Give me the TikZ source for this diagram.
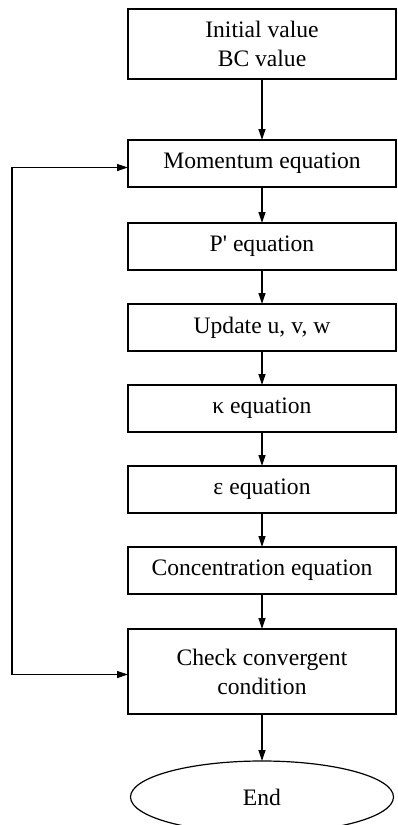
\documentclass[tikz,border=0pt]{standalone}
\usepackage{fontspec}
\setmainfont{Liberation Serif}
\usetikzlibrary{positioning,arrows.meta,shapes.geometric}

\begin{document}
\begin{tikzpicture}[
  stepbox/.style={rectangle, draw, line width=0.6pt, minimum width=134pt, minimum height=23.5pt,
                  inner sep=2pt, outer sep=0pt, align=center, font=\fontsize{11.8}{14.5}\selectfont},
  endbox/.style={ellipse, draw, line width=0.6pt, minimum width=131.5pt, minimum height=36pt,
                 inner sep=0pt, outer sep=0pt, font=\fontsize{11.8}{14.5}\selectfont},
  ea/.style={-{Triangle[length=5.5pt,width=3.5pt]}, line width=0.6pt},
  eb/.style={{Triangle[length=5.5pt,width=3.5pt]}-{Triangle[length=5.5pt,width=3.5pt]}, line width=0.6pt},
  node distance=17pt
]
\useasboundingbox (0,0) rectangle (198.5pt,-412.5pt);

\node[stepbox, minimum height=35pt, anchor=north] (init) at (131pt,-4.5pt) {Initial value\\BC value};
\node[stepbox, below=30.5pt of init] (mom)  {Momentum equation};
\node[stepbox, below=18pt of mom]    (peq)  {P\textquotesingle{} equation};
\node[stepbox, below=of peq]         (upd)  {Update u, v, w};
\node[stepbox, below=of upd]         (kap)  {κ equation};
\node[stepbox, below=of kap]         (eps)  {ε equation};
\node[stepbox, below=of eps]         (conc) {Concentration equation};
\node[stepbox, minimum height=42.5pt, below=17.5pt of conc] (check) {Check convergent\\condition};
\node[endbox, below=23.5pt of check] (end) {End};

\foreach \a/\b in {init/mom,mom/peq,peq/upd,upd/kap,kap/eps,eps/conc,conc/check,check/end}
  \draw[ea] (\a)--(\b);

% feedback loop
\coordinate (loop) at (6pt,0);
\draw[eb] ([yshift=-2pt]mom.west) -- ([yshift=-2pt]mom.west -| loop)
  -- ([yshift=-1.5pt]check.west -| loop) -- ([yshift=-1.5pt]check.west);

\end{tikzpicture}
\end{document}
